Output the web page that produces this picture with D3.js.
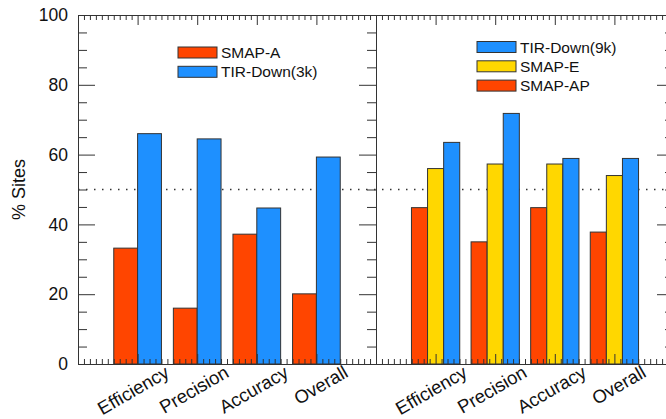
<!DOCTYPE html>
<html>
<head>
<meta charset="utf-8">
<script src="https://cdn.jsdelivr.net/npm/d3@7"></script>
<style>
  body { margin: 0; background: #fff; }
  svg { display: block; font-family: "Liberation Sans", Arial, Helvetica, sans-serif; }
</style>
</head>
<body>
<svg id="chart"></svg>
<script>
// data
const categories = ["Efficiency", "Precision", "Accuracy", "Overall"];
const smapA = [33.2, 16.0, 37.2, 20.1];
const tirDown3k = [66.0, 64.5, 44.7, 59.3];
const smapAP = [44.8, 35.0, 44.8, 37.8];
const smapE = [56.0, 57.3, 57.3, 54.0];
const tirDown9k = [63.5, 71.8, 58.9, 58.9];
const yMajor = [0, 20, 40, 60, 80, 100];

const width = 666, height = 419;
const plotTop = 15, plotBottom = 364;
const xL0 = 78, xMid = 376, xR1 = 674;
const red = "#ff4500", blue = "#1e90ff", yellow = "#ffd700";
const axisColor = "#333";

let svg = d3.select("#chart").attr("width", width).attr("height", height);

let y = d3.scaleLinear().domain([0, 100]).range([plotBottom, plotTop]);
let xLeft = d3.scaleLinear().domain([0, 5]).range([xL0, xMid]);
let xRight = d3.scaleLinear().domain([0, 5]).range([xMid, xR1]);

let yMinor = d3.range(0, 101, 5).filter(v => v % 20 != 0);
let xMinor = d3.range(0, 50).map(i => i / 10).filter(v => v % 1 != 0);
let xMajor = [0, 1, 2, 3, 4, 5];

// dotted 50% line
svg.append("line")
    .attr("x1", xL0).attr("x2", xR1)
    .attr("y1", y(50)).attr("y2", y(50))
    .attr("stroke", "#333")
    .attr("stroke-width", 1.3)
    .attr("stroke-dasharray", "1.5,6.5");

function drawBars(scaleX, series, colors, barW) {
    let n = series.length;
    series.forEach((vals, s) => {
        svg.append("g").selectAll("rect")
            .data(vals)
            .enter()
            .append("rect")
            .attr("x", (d, i) => scaleX(i + 1 + (s - n / 2) * barW))
            .attr("width", scaleX(barW) - scaleX(0))
            .attr("y", d => y(d))
            .attr("height", d => y(0) - y(d))
            .attr("fill", colors[s])
            .attr("stroke", "#333")
            .attr("stroke-width", 1);
    });
}

drawBars(xLeft, [smapA, tirDown3k], [red, blue], 0.4);
drawBars(xRight, [smapAP, smapE, tirDown9k], [red, yellow, blue], 0.27);

function styleAxis(g) {
    g.selectAll("path, line").attr("stroke", axisColor);
    g.selectAll("text").attr("fill", "#111").style("font-size", "17.5px").style("font-family", "inherit");
}

// left y axis
svg.append("g")
    .attr("transform", `translate(${xL0},0)`)
    .call(d3.axisLeft(y).tickValues(yMajor).tickSize(-17).tickSizeOuter(0).tickPadding(10))
    .call(styleAxis);
svg.append("g")
    .attr("transform", `translate(${xL0},0)`)
    .call(d3.axisLeft(y).tickValues(yMinor).tickSize(-9).tickSizeOuter(0).tickFormat(""))
    .call(styleAxis);

// right axes of both panels, ticks pointing left
[xMid, xR1].forEach(px => {
    svg.append("g")
        .attr("transform", `translate(${px},0)`)
        .call(d3.axisRight(y).tickValues(yMajor).tickSize(-17).tickSizeOuter(0).tickFormat(""))
        .call(styleAxis);
    svg.append("g")
        .attr("transform", `translate(${px},0)`)
        .call(d3.axisRight(y).tickValues(yMinor).tickSize(-9).tickSizeOuter(0).tickFormat(""))
        .call(styleAxis);
});

// top and bottom x axes
[xLeft, xRight].forEach(sc => {
    svg.append("g")
        .attr("transform", `translate(0,${plotTop})`)
        .call(d3.axisTop(sc).tickValues(xMajor).tickSize(-10).tickSizeOuter(0).tickFormat(""))
        .call(styleAxis);
    svg.append("g")
        .attr("transform", `translate(0,${plotTop})`)
        .call(d3.axisTop(sc).tickValues(xMinor).tickSize(-5).tickSizeOuter(0).tickFormat(""))
        .call(styleAxis);
    svg.append("g")
        .attr("transform", `translate(0,${plotBottom})`)
        .call(d3.axisBottom(sc).tickValues(xMajor).tickSize(-10).tickSizeOuter(0).tickFormat(""))
        .call(styleAxis);
    svg.append("g")
        .attr("transform", `translate(0,${plotBottom})`)
        .call(d3.axisBottom(sc).tickValues(xMinor).tickSize(-5).tickSizeOuter(0).tickFormat(""))
        .call(styleAxis);

    // rotated category labels
    svg.append("g").selectAll("text")
        .data(categories)
        .enter()
        .append("text")
        .attr("transform", (d, i) => `translate(${sc(i + 1) + 33},${plotBottom + 12}) rotate(-30)`)
        .attr("text-anchor", "end")
        .style("font-size", "18.5px")
        .attr("fill", "#111")
        .text(d => d);
});

// y label
svg.append("text")
    .attr("transform", `translate(25,${(plotTop + plotBottom) / 2}) rotate(-90)`)
    .attr("text-anchor", "middle")
    .style("font-size", "18px")
    .attr("fill", "#111")
    .text("% Sites");

// legends
function drawLegend(x0, y0, items) {
    let g = svg.append("g").attr("transform", `translate(${x0},${y0})`);
    items.forEach((it, i) => {
        g.append("rect")
            .attr("x", 0).attr("y", i * 19.3)
            .attr("width", 39).attr("height", 11)
            .attr("fill", it.color)
            .attr("stroke", "#333");
        g.append("text")
            .attr("x", 43).attr("y", i * 19.3 + 11)
            .style("font-size", "15.5px")
            .attr("fill", "#111")
            .text(it.name);
    });
}
drawLegend(178, 47, [{ name: "SMAP-A", color: red }, { name: "TIR-Down(3k)", color: blue }]);
drawLegend(477, 41.5, [
    { name: "TIR-Down(9k)", color: blue },
    { name: "SMAP-E", color: yellow },
    { name: "SMAP-AP", color: red }
]);
</script>
</body>
</html>
